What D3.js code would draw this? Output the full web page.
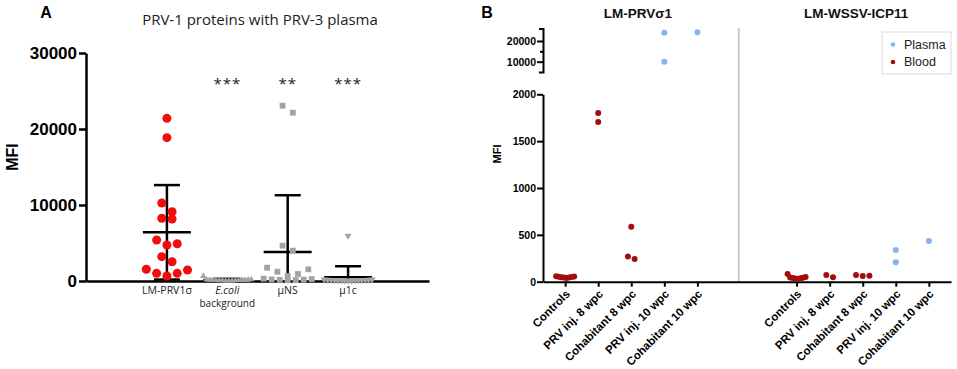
<!DOCTYPE html>
<html>
<head>
<meta charset="utf-8">
<script src="https://cdn.jsdelivr.net/npm/d3@7"></script>
<style>
body { margin: 0; background: #fff; }
svg { display: block; font-family: "Liberation Sans", Arial, sans-serif; }
</style>
</head>
<body>
<div id="chart"></div>
<script>
// ---- Panel A data: PRV-1 proteins with PRV-3 plasma ----
const groupsA = ["LM-PRV1σ", "E.coli background", "μNS", "μ1c"];
const prvSigma1 = [21400, 18860, 10260, 9120, 8250, 8160, 5400, 4910, 4740, 3200, 2540, 1540, 1450, 1010, 1010, 660];
const ecoliBg = [650, 210, 180, 160, 150, 140, 130, 120, 110, 100, 90, 80, 70, 60, 50, 40];
const muNS = [23070, 22150, 4650, 3990, 1750, 1540, 1220, 920, 660, 300, 250, 200, 180, 150, 120, 100];
const mu1c = [5960, 200, 180, 160, 150, 140, 130, 120, 110, 100, 90, 80, 70, 60, 50, 40];
const starsA = ["", "***", "**", "***"];
const yTicksA = [0, 10000, 20000, 30000];

// ---- Panel B data ----
const panelsB = ["LM-PRVσ1", "LM-WSSV-ICP11"];
const groupsB = ["Controls", "PRV inj. 8 wpc", "Cohabitant 8 wpc", "PRV inj. 10 wpc", "Cohabitant 10 wpc"];
const sigmaBlood = [[50, 45, 55, 40, 52, 48, 58, 44], [1800, 1705], [586, 270, 242], [], []];
const sigmaPlasma = [[], [], [], [24000, 10000], [24200]];
const icpBlood = [[35, 45, 40, 50, 82, 38, 42, 30], [47, 71], [71, 61, 64], [], []];
const icpPlasma = [[], [], [], [338, 207], [434]];
const yTicksBLow = [0, 500, 1000, 1500, 2000];
const yTicksBHigh = [10000, 15000, 20000];

const W = 957, H = 369;
const svg = d3.select("#chart").append("svg")
    .attr("width", W)
    .attr("height", H);

// spread points of similar value sideways (column scatter)
function spread(values, pxOf, gap, step, maxHalf) {
    const pts = values.map(v => ({ v, y: pxOf(v) })).sort((a, b) => a.y - b.y);
    const out = [];
    let i = 0;
    while (i < pts.length) {
        const grp = [pts[i]];
        let j = i + 1;
        while (j < pts.length && pts[j].y - pts[i].y < gap) grp.push(pts[j++]);
        const n = grp.length;
        const s = n > 1 ? Math.min(step, 2 * maxHalf / (n - 1)) : 0;
        const slots = d3.range(n).map(k => k - (n - 1) / 2);
        const order = [];
        let lo = 0, hi = n - 1;
        while (lo <= hi) {
            order.push(slots[lo++]);
            if (lo <= hi) order.push(slots[hi--]);
        }
        grp.forEach((p, k) => out.push({ v: p.v, y: p.y, dx: order[k] * s }));
        i = j;
    }
    return out;
}

// =========== Panel A ===========
const xA = d3.scalePoint().domain(groupsA).range([86, 429]).padding(1.34);
const yA = d3.scaleLinear().domain([0, 30000]).range([281, 53]);

svg.append("text")
    .attr("x", 46).attr("y", 18)
    .attr("text-anchor", "middle")
    .style("font-size", "16px").style("font-weight", "bold")
    .text("A");

svg.append("text")
    .attr("x", 260).attr("y", 25)
    .attr("text-anchor", "middle")
    .style("font-family", "'Open Sans', sans-serif")
    .style("font-size", "15px")
    .style("fill", "#222")
    .text("PRV-1 proteins with PRV-3 plasma");

const yAxisA = svg.append("g")
    .attr("transform", "translate(86,0)")
    .call(d3.axisLeft(yA).tickValues(yTicksA).tickFormat(d3.format("d"))
        .tickSize(7).tickPadding(2).tickSizeOuter(0));
yAxisA.selectAll("text").style("font-size", "17px").style("font-weight", "bold").attr("fill", "#000");
yAxisA.selectAll("path, line").attr("stroke", "#000").attr("stroke-width", 2.5);

const xAxisA = svg.append("g")
    .attr("transform", `translate(0,${yA(0)})`)
    .call(d3.axisBottom(xA).tickSize(0).tickFormat(""));
xAxisA.select("path").attr("stroke", "#000").attr("stroke-width", 2.5);

svg.append("text")
    .attr("transform", `translate(18,${(yA(0) + yA(30000)) / 2 - 10}) rotate(-90)`)
    .attr("text-anchor", "middle")
    .style("font-size", "16px").style("font-weight", "bold")
    .text("MFI");

// category labels
const labA = svg.append("g")
    .style("font-family", "'Open Sans', sans-serif")
    .style("font-size", "10.5px")
    .attr("fill", "#222");
groupsA.forEach(g => {
    if (g.startsWith("E.coli")) {
        labA.append("text").attr("x", xA(g)).attr("y", 293.5).attr("text-anchor", "middle")
            .style("font-style", "italic").text("E.coli");
        labA.append("text").attr("x", xA(g)).attr("y", 307).attr("text-anchor", "middle")
            .style("font-size", "10px").text("background");
    } else {
        labA.append("text").attr("x", xA(g)).attr("y", 294).attr("text-anchor", "middle").text(g);
    }
});

// significance stars
svg.selectAll(".star")
    .data(groupsA)
    .enter().append("text")
    .attr("class", "star")
    .attr("x", d => xA(d))
    .attr("y", 89)
    .attr("text-anchor", "middle")
    .style("font-family", "'Open Sans', sans-serif")
    .style("font-size", "15px")
    .style("letter-spacing", "1px")
    .attr("fill", "#222")
    .text((d, i) => starsA[i]);

const seriesA = [
    { values: prvSigma1, symbol: d3.symbolCircle, size: 64, color: "#f20d0d", rot: 0 },
    { values: ecoliBg, symbol: d3.symbolTriangle, size: 18, color: "#a3a3a3", rot: 0 },
    { values: muNS, symbol: d3.symbolSquare, size: 34, color: "#a3a3a3", rot: 0 },
    { values: mu1c, symbol: d3.symbolTriangle, size: 22, color: "#a3a3a3", rot: 180 }
];

seriesA.forEach((s, gi) => {
    const cx = xA(groupsA[gi]);
    const mean = d3.mean(s.values);
    const sd = d3.deviation(s.values);
    const lo = Math.max(mean - sd, 0);
    const bars = svg.append("g").attr("stroke", "#000").attr("stroke-width", 2.5);
    bars.append("line").attr("x1", cx).attr("x2", cx).attr("y1", yA(mean + sd)).attr("y2", yA(lo));
    bars.append("line").attr("x1", cx - 13).attr("x2", cx + 13).attr("y1", yA(mean + sd)).attr("y2", yA(mean + sd));
    if (mean - sd > 0) {
        bars.append("line").attr("x1", cx - 13).attr("x2", cx + 13).attr("y1", yA(lo)).attr("y2", yA(lo));
    }
    bars.append("line").attr("x1", cx - 24).attr("x2", cx + 24).attr("y1", yA(mean)).attr("y2", yA(mean));

    const pts = spread(s.values, yA, 10, 10.3, 24);
    svg.append("g").selectAll("path")
        .data(pts)
        .enter().append("path")
        .attr("d", d3.symbol().type(s.symbol).size(s.size))
        .attr("transform", d => `translate(${cx + d.dx},${d.y}) rotate(${s.rot})`)
        .attr("fill", s.color);
});

// =========== Panel B ===========
const slotB = (panel, gi) => panel * 7 + gi;
const xB = d3.scaleLinear().domain([-0.67, 11.67]).range([543, 951]);
const yBLow = d3.scaleLinear().domain([0, 2000]).range([281.7, 94.3]);
const yBHigh = d3.scaleLinear().domain([5000, 26000]).range([72, 28.6]);
const yB = v => v > 2000 ? yBHigh(v) : yBLow(v);

svg.append("text")
    .attr("x", 487).attr("y", 18)
    .attr("text-anchor", "middle")
    .style("font-size", "16px").style("font-weight", "bold")
    .text("B");

panelsB.forEach((p, pi) => {
    svg.append("text")
        .attr("x", xB(slotB(pi, 2) + (pi === 0 ? 0.2 : -0.2)))
        .attr("y", 18)
        .attr("text-anchor", "middle")
        .style("font-size", "13.5px").style("font-weight", "bold")
        .attr("fill", "#111")
        .text(p);
});

// panel separator
svg.append("line")
    .attr("x1", xB(5.25)).attr("x2", xB(5.25))
    .attr("y1", 28).attr("y2", yBLow(0))
    .attr("stroke", "#c8c8c8").attr("stroke-width", 2);

const axLow = svg.append("g")
    .attr("transform", "translate(543,0)")
    .call(d3.axisLeft(yBLow).tickValues(yTicksBLow).tickFormat(d3.format("d"))
        .tickSize(6).tickPadding(1).tickSizeOuter(0));
const axHigh = svg.append("g")
    .attr("transform", "translate(543,0)")
    .call(d3.axisLeft(yBHigh).tickValues(yTicksBHigh)
        .tickFormat(d => d === 15000 ? "" : d3.format("d")(d))
        .tickSize(6).tickPadding(1).tickSizeOuter(4));
axHigh.selectAll(".tick").filter(d => d === 15000).select("line").attr("x2", -3);
[axLow, axHigh].forEach(ax => {
    ax.selectAll("text").style("font-size", "10.5px").style("font-weight", "bold").attr("fill", "#000");
    ax.selectAll("path, line").attr("stroke", "#000").attr("stroke-width", 2);
});

const tickSlots = [];
panelsB.forEach((p, pi) => groupsB.forEach((g, gi) => tickSlots.push(slotB(pi, gi))));
const axX = svg.append("g")
    .attr("transform", `translate(0,${yBLow(0)})`)
    .call(d3.axisBottom(xB).tickValues(tickSlots)
        .tickFormat(d => groupsB[d % 7]).tickSize(5).tickSizeOuter(0));
axX.selectAll("path, line").attr("stroke", "#000").attr("stroke-width", 2);
axX.selectAll("text")
    .attr("y", 0).attr("dy", 0)
    .attr("transform", "translate(5,13) rotate(-45)")
    .attr("text-anchor", "end")
    .style("font-size", "11.5px").style("font-weight", "bold").attr("fill", "#000");

svg.append("text")
    .attr("transform", `translate(501,154) rotate(-90)`)
    .attr("text-anchor", "middle")
    .style("font-size", "11px").style("font-weight", "bold")
    .text("MFI");

const bloodColor = "#a50d0d", plasmaColor = "#86b4ef";
const seriesB = [
    { panel: 0, data: sigmaBlood, color: bloodColor },
    { panel: 0, data: sigmaPlasma, color: plasmaColor },
    { panel: 1, data: icpBlood, color: bloodColor },
    { panel: 1, data: icpPlasma, color: plasmaColor }
];
seriesB.forEach(s => {
    s.data.forEach((vals, gi) => {
        const cx = xB(slotB(s.panel, gi));
        const pts = spread(vals, yB, 6, 6.7, 9);
        svg.append("g").selectAll("circle")
            .data(pts)
            .enter().append("circle")
            .attr("cx", d => cx + d.dx)
            .attr("cy", d => d.y)
            .attr("r", 3)
            .attr("fill", s.color);
    });
});

// legend
const leg = svg.append("g").attr("transform", "translate(882,32)");
leg.append("rect").attr("width", 69).attr("height", 42)
    .attr("fill", "#fff").attr("stroke", "#d9d9d9");
[["Plasma", plasmaColor], ["Blood", bloodColor]].forEach(([name, c], i) => {
    leg.append("circle").attr("cx", 11).attr("cy", 12.5 + i * 17.5).attr("r", 2.3).attr("fill", c);
    leg.append("text").attr("x", 22).attr("y", 16.5 + i * 17.5)
        .style("font-size", "12.5px").attr("fill", "#222").text(name);
});
</script>
</body>
</html>
